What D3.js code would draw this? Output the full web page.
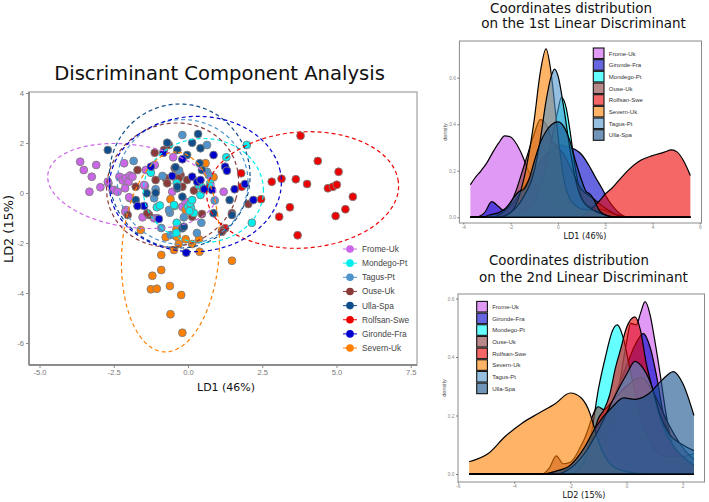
<!DOCTYPE html>
<html><head><meta charset="utf-8">
<script src="https://cdn.jsdelivr.net/npm/d3@7"></script>
<style>body{margin:0;background:#fff} svg{display:block}</style>
</head><body>
<svg id="c" width="709" height="502"></svg>
<script>
// ---------- DATA ----------
const groupNames  = ["Frome-Uk","Mondego-Pt","Tagus-Pt","Ouse-Uk","Ulla-Spa","Rolfsan-Swe","Gironde-Fra","Severn-Uk"];
const groupColors = ["#CC66E8","#00EEEE","#4F94CD","#8B3A3A","#104E8B","#EE0000","#0000CD","#FF7F00"];

const ptsFrome = [[-3.63,1.25],[-3.51,0.92],[-3.09,1.12],[-3.24,0.65],[-2.95,0.23],[-3.32,0.05],[-2.68,0.39],[-2.48,0.12],[-2.31,0.65],[-2.2,0.5],[-2.1,0.6],[-2.0,0.45],[-1.95,0.7],[-2.15,1.19],[-1.87,0.65],[-1.95,-0.21],[-2.12,0.19],[-2.09,-0.68],[-1.53,-0.97],[-1.14,-1.01],[-1.45,0.28],[-1.42,0.92],[-1.12,1.12],[-0.5,1.43],[-0.53,0.05],[-0.19,-0.55],[-0.08,-0.35],[1.2,0.05],[-2.7,0.45],[-2.54,0.12],[-2.37,0.05],[-1.98,-0.17],[-1.48,0.32],[-2.11,-0.75],[-1.03,-1.01],[-0.47,0.65]];
const ptsMondego = [[-1.25,0.81],[-0.38,0.39],[-1.05,-0.57],[-0.45,-0.52],[0.0,-0.55],[0.1,-0.6],[0.2,-0.8],[0.05,-0.72],[0.36,0.32],[0.47,0.23],[0.75,0.39],[1.29,1.43],[1.98,1.92],[2.15,-1.19],[-0.39,-1.59],[-0.47,-0.48],[0.08,-0.41],[0.14,-0.28],[0.42,-0.08],[0.75,0.28],[-0.38,-1.19],[-0.95,-0.5]];
const ptsTagus = [[-0.19,2.32],[0.64,1.92],[-1.83,1.28],[-0.86,0.68],[-1.14,-0.21],[-0.61,-0.79],[-0.14,-0.97],[0.64,0.85],[-0.59,-1.68],[-1.09,0.15],[-0.64,-0.68],[0.45,-1.19],[0.70,0.72],[-0.3,0.9],[0.9,-0.3],[-0.9,-1.4],[0.3,-1.6]];
const ptsOuse = [[-1.70,0.92],[-1.12,1.61],[-0.81,1.72],[-0.64,1.92],[-1.09,0.52],[-0.75,0.59],[-0.70,0.39],[-0.25,0.72],[-0.31,0.59],[-0.03,0.52],[-0.19,0.25],[-1.76,0.25],[-2.03,-0.88],[-1.31,-0.88],[0.14,-0.95],[0.47,-0.84],[1.18,-1.48],[2.03,-0.44],[-1.37,-0.81],[1.48,-0.81],[1.14,-1.55],[-0.45,1.0],[0.2,0.1]];
const ptsUlla = [[-2.70,1.72],[-0.70,2.01],[0.34,2.36],[0.14,2.01],[-0.36,1.72],[-0.03,1.52],[0.42,1.79],[0.47,0.92],[0.39,1.19],[-0.36,0.19],[-1.09,0.01],[-0.19,-0.15],[-1.76,-0.28],[-0.19,-1.41],[1.40,-0.28],[0.53,0.15],[-1.39,-0.01],[-0.42,1.03],[-0.36,0.25],[-0.14,-1.35],[0.86,-0.81],[1.48,-0.88]];
const ptsRolfsan = [[3.79,2.29],[4.37,1.28],[5.07,0.85],[2.82,0.45],[3.15,0.57],[3.63,0.55],[4.01,0.36],[4.71,0.19],[4.88,0.25],[5.01,0.33],[5.55,-0.15],[3.43,-0.57],[3.07,-0.95],[4.97,-0.92],[5.30,-0.65],[3.69,-1.69],[2.46,-0.25],[1.79,0.79],[1.81,0.25],[1.25,-1.41]];
const ptsGironde = [[-1.25,1.05],[-0.83,1.61],[-0.19,1.35],[0.86,1.52],[1.25,1.05],[1.31,0.89],[-0.53,0.68],[0.14,0.65],[0.31,0.45],[0.42,0.52],[0.81,0.12],[0.55,0.15],[1.57,0.15],[1.92,0.36],[2.20,-0.28],[-1.48,-0.52],[-0.98,-1.04],[-0.06,-2.39],[-1.70,-0.52]];
const ptsSevern = [[1.48,-2.71],[-0.90,-3.08],[-1.20,-3.31],[-1.25,-3.85],[-1.05,-3.83],[-0.61,-3.72],[-0.23,-4.08],[-0.59,-4.85],[-0.19,-5.59],[-0.90,-2.48],[-0.47,-2.28],[0.39,-2.35],[-1.59,-1.48],[-0.75,-1.77],[-0.59,-0.25],[-0.39,-1.45],[-0.38,-1.75],[-0.08,-1.85],[-0.31,-2.04],[0.14,-2.04],[0.59,1.19],[0.86,0.63],[-0.08,-0.68],[0.37,-1.85]];

// 95% ellipses: [centre x, centre y, semi-axis a, semi-axis b, angle deg]
const ellFrome   = [-1.89,0.28,2.87,1.64,-11];
const ellMondego = [0.52,0.10,2.02,2.08,0];
const ellTagus   = [-0.18,0.44,2.2,2.5,0];
const ellOuse    = [-0.52,0.32,2.2,2.5,-15];
const ellUlla    = [-0.28,0.68,2.37,2.88,0];
const ellRolfsan = [3.86,0.12,3.24,2.32,6];
const ellGironde = [0.25,0.36,2.9,2.7,10];
const ellSevern  = [-0.59,-2.36,4.0,1.64,87];

const xTicks = [-5,-2.5,0,2.5,5,7.5];
const yTicks = [-6,-4,-2,0,2,4];

// density plots (alphabetical order)
const densNames  = ["Frome-Uk","Gironde-Fra","Mondego-Pt","Ouse-Uk","Rolfsan-Swe","Severn-Uk","Tagus-Pt","Ulla-Spa"];
const densColors = ["#CC55EE","#0000CD","#00FFFF","#8B3A3A","#EE0000","#FF8000","#4F94CD","#104E8B"];

const ld1Frome = [[-3.7,0.14],[-3.5,0.17],[-3.25,0.2],[-3.0,0.235],[-2.75,0.28],[-2.5,0.32],[-2.25,0.35],[-2.0,0.345],[-1.75,0.315],[-1.5,0.265],[-1.25,0.2],[-1.0,0.15],[-0.75,0.11],[-0.5,0.08],[-0.25,0.06],[0,0.05],[0.5,0.035],[1.0,0.02],[1.5,0.006],[2.0,0]];
const ld1Gironde = [[-3.5,0],[-3.1,0.02],[-2.8,0.067],[-2.5,0.045],[-2.3,0.03],[-2.0,0.05],[-1.5,0.12],[-1.0,0.2],[-0.5,0.27],[0,0.31],[0.5,0.3],[0.75,0.29],[1.0,0.27],[1.3,0.225],[1.6,0.17],[1.86,0.125],[2.1,0.08],[2.3,0.05],[2.7,0.01],[3.0,0]];
const ld1Mondego = [[-2.0,0],[-1.5,0.02],[-1.0,0.07],[-0.75,0.13],[-0.5,0.22],[-0.25,0.34],[0,0.46],[0.15,0.516],[0.35,0.47],[0.5,0.38],[0.75,0.2],[1.0,0.09],[1.25,0.05],[1.5,0.04],[2.0,0.03],[2.5,0.01],[3.0,0]];
const ld1Ouse = [[-2.75,0],[-2.5,0.01],[-2.0,0.06],[-1.75,0.12],[-1.5,0.2],[-1.25,0.28],[-1.0,0.36],[-0.75,0.42],[-0.5,0.4],[-0.25,0.33],[0,0.3],[0.25,0.27],[0.5,0.22],[1.0,0.12],[1.5,0.08],[2.0,0.04],[2.5,0.01],[3.0,0]];
const ld1Rolfsan = [[0.8,0],[1.1,0.01],[1.4,0.035],[1.75,0.07],[2.0,0.1],[2.28,0.125],[2.5,0.15],[3.0,0.205],[3.5,0.245],[4.0,0.265],[4.5,0.28],[4.8,0.29],[5.05,0.28],[5.3,0.245],[5.6,0.18]];
const ld1Severn = [[-2.5,0],[-2.0,0.02],[-1.75,0.06],[-1.5,0.14],[-1.25,0.26],[-1.0,0.42],[-0.75,0.62],[-0.5,0.724],[-0.3,0.63],[-0.1,0.45],[0.1,0.27],[0.3,0.14],[0.5,0.08],[0.75,0.05],[1.0,0.035],[1.5,0.03],[2.0,0.01],[2.5,0]];
const ld1Tagus = [[-2.5,0],[-2.0,0.02],[-1.5,0.08],[-1.0,0.2],[-0.75,0.33],[-0.5,0.5],[-0.3,0.6],[-0.14,0.637],[0,0.61],[0.25,0.47],[0.5,0.3],[0.75,0.16],[1.0,0.08],[1.5,0.03],[2.0,0.01],[2.5,0]];
const ld1Ulla = [[-3.2,0],[-2.9,0.01],[-2.5,0.02],[-2.2,0.04],[-1.9,0.08],[-1.66,0.11],[-1.45,0.12],[-1.2,0.17],[-1.0,0.24],[-0.75,0.32],[-0.5,0.37],[-0.25,0.4],[0,0.41],[0.25,0.39],[0.5,0.33],[0.75,0.24],[1.0,0.16],[1.2,0.11],[1.35,0.1],[1.5,0.08],[1.75,0.03],[2.0,0.01],[2.3,0]];

const ld2Frome = [[-1.75,0],[-1.25,0.02],[-1.0,0.06],[-0.75,0.12],[-0.5,0.2],[-0.25,0.31],[0,0.45],[0.15,0.515],[0.35,0.51],[0.5,0.55],[0.66,0.589],[0.85,0.54],[1.0,0.46],[1.2,0.34],[1.4,0.21],[1.6,0.11],[1.9,0.04],[2.2,0.01],[2.4,0]];
const ld2Gironde = [[-3.0,0],[-2.5,0.01],[-2.0,0.02],[-1.5,0.05],[-1.0,0.13],[-0.5,0.25],[0,0.37],[0.3,0.44],[0.6,0.48],[0.85,0.43],[1.1,0.32],[1.3,0.21],[1.6,0.11],[2.0,0.05],[2.4,0.03]];
const ld2Mondego = [[-2.0,0],[-1.75,0.01],[-1.5,0.05],[-1.25,0.14],[-1.0,0.29],[-0.75,0.4],[-0.5,0.49],[-0.33,0.51],[-0.1,0.46],[0.1,0.37],[0.3,0.28],[0.5,0.2],[0.75,0.13],[1.0,0.08],[1.5,0.06],[2.0,0.06],[2.4,0.07]];
const ld2Ouse = [[-3.0,0],[-2.75,0.02],[-2.5,0.062],[-2.25,0.035],[-2.0,0.04],[-1.5,0.12],[-1.0,0.23],[-0.8,0.22],[-0.5,0.25],[0,0.3],[0.5,0.33],[1.0,0.27],[1.5,0.17],[2.0,0.09],[2.4,0.05]];
const ld2Rolfsan = [[-2.0,0],[-1.5,0.04],[-1.2,0.13],[-1.0,0.19],[-0.8,0.22],[-0.6,0.27],[-0.4,0.36],[-0.2,0.43],[0,0.5],[0.3,0.537],[0.5,0.49],[0.7,0.38],[0.9,0.3],[1.1,0.22],[1.4,0.14],[1.8,0.08],[2.4,0.03]];
const ld2Severn = [[-5.6,0.042],[-4.92,0.07],[-4.32,0.128],[-3.73,0.173],[-3.14,0.207],[-2.54,0.24],[-2.0,0.277],[-1.6,0.259],[-1.3,0.207],[-1.12,0.15],[-0.88,0.082],[-0.53,0.03],[0,0.008],[0.5,0.002],[1.0,0]];
const ld2Tagus = [[-2.5,0],[-2.0,0.02],[-1.5,0.07],[-1.0,0.15],[-0.5,0.25],[0,0.34],[0.3,0.385],[0.6,0.36],[0.9,0.3],[1.2,0.2],[1.5,0.14],[2.0,0.1],[2.4,0.08]];
const ld2Ulla = [[-3.0,0],[-2.5,0.01],[-2.0,0.03],[-1.5,0.09],[-1.1,0.16],[-0.5,0.23],[-0.1,0.26],[0.3,0.255],[0.8,0.275],[1.25,0.32],[1.67,0.35],[2.0,0.31],[2.4,0.2]];

const ld1Ticks = [-4,-2,0,2,4,6];
const ld2Ticks = [-6,-4,-2,0,2];
const densTicks = [0,0.2,0.4,0.6];

// ---------- DRAW ----------
const svg = d3.select("#c");
const SANS = "'Liberation Sans', Arial, sans-serif";
const TITLE = "'DejaVu Sans', Verdana, sans-serif";
function fit(t, w){ const l=t.node().getComputedTextLength(); const fs=parseFloat(t.attr("font-size")); t.attr("font-size", fs*w/l); return t; }

// ---- scatter panel ----
const P = {l:29, r:417, t:92, b:365};
const x = d3.scaleLinear().domain([-5,7.5]).range([39.5,410.75]);
const y = d3.scaleLinear().domain([-6,4]).range([343,93]);

svg.append("rect").attr("x",P.l).attr("y",P.t).attr("width",P.r-P.l).attr("height",P.b-P.t)
  .attr("fill","#fff").attr("stroke","#a8a8a8").attr("stroke-width",1.3);
svg.append("line").attr("x1",P.l).attr("x2",P.r).attr("y1",P.b).attr("y2",P.b).attr("stroke","#8c8c8c").attr("stroke-width",1.8);
svg.append("line").attr("x1",P.l).attr("x2",P.l).attr("y1",P.t).attr("y2",P.b).attr("stroke","#8c8c8c").attr("stroke-width",1.8);

const gx = svg.append("g").attr("transform",`translate(0,${P.b})`)
  .call(d3.axisBottom(x).tickValues(xTicks).tickFormat(d=>d.toFixed(1)).tickSize(3).tickPadding(2));
const gy = svg.append("g").attr("transform",`translate(${P.l},0)`)
  .call(d3.axisLeft(y).tickValues(yTicks).tickFormat(d=>String(d)).tickSize(3).tickPadding(2));
[gx,gy].forEach(g=>{ g.select(".domain").remove();
  g.selectAll("line").attr("stroke","#888");
  g.selectAll("text").attr("fill","#777").attr("font-size",7.6).attr("font-family",SANS); });

const pointSets = {"Frome-Uk":ptsFrome,"Mondego-Pt":ptsMondego,"Tagus-Pt":ptsTagus,"Ouse-Uk":ptsOuse,"Ulla-Spa":ptsUlla,"Rolfsan-Swe":ptsRolfsan,"Gironde-Fra":ptsGironde,"Severn-Uk":ptsSevern};
const ellSets = {"Frome-Uk":ellFrome,"Mondego-Pt":ellMondego,"Tagus-Pt":ellTagus,"Ouse-Uk":ellOuse,"Ulla-Spa":ellUlla,"Rolfsan-Swe":ellRolfsan,"Gironde-Fra":ellGironde,"Severn-Uk":ellSevern};
const col = n => groupColors[groupNames.indexOf(n)];

const drawOrder = ["Frome-Uk","Severn-Uk","Rolfsan-Swe","Ouse-Uk","Tagus-Pt","Mondego-Pt","Ulla-Spa","Gironde-Fra"];
const gp = svg.append("g");
drawOrder.forEach(n=>{
  gp.selectAll(null).data(pointSets[n]).enter().append("circle")
    .attr("cx",d=>x(d[0])).attr("cy",d=>y(d[1])).attr("r",3.9)
    .attr("fill",col(n)).attr("stroke","#7f7f7f").attr("stroke-width",0.9);
});
function ellipsePts(e){ const [cx,cy,a,b,ang]=e; const t=ang*Math.PI/180;
  return d3.range(0,361,3).map(k=>{ const s=k*Math.PI/180;
    return [cx+a*Math.cos(t)*Math.cos(s)-b*Math.sin(t)*Math.sin(s), cy+a*Math.sin(t)*Math.cos(s)+b*Math.cos(t)*Math.sin(s)]; }); }
const eline = d3.line().x(d=>x(d[0])).y(d=>y(d[1])).curve(d3.curveLinear);
groupNames.forEach(n=>{
  svg.append("path").attr("d",eline(ellipsePts(ellSets[n]))).attr("fill","none")
    .attr("stroke",col(n)).attr("stroke-width",1.2).attr("stroke-dasharray","4,3");
});

// legend
groupNames.forEach((n,i)=>{
  const yy = 249 + i*14.15;
  svg.append("line").attr("x1",343).attr("x2",357).attr("y1",yy).attr("y2",yy).attr("stroke",col(n)).attr("stroke-width",1);
  svg.append("circle").attr("cx",350).attr("cy",yy).attr("r",3.8).attr("fill",col(n));
  svg.append("text").attr("x",362).attr("y",yy+3).text(n).attr("font-family",SANS).attr("font-size",8.3).attr("fill","#444");
});

// titles
fit(svg.append("text").attr("x",219.5).attr("y",80).attr("text-anchor","middle").attr("font-family",TITLE)
  .attr("font-size",20).attr("fill","#111").text("Discriminant Component Analysis"),331);
fit(svg.append("text").attr("x",226).attr("y",391).attr("text-anchor","middle").attr("font-family",TITLE)
  .attr("font-size",12).attr("fill","#111").text("LD1 (46%)"),58);
fit(svg.append("text").attr("transform","translate(12.5,229) rotate(-90)").attr("text-anchor","middle").attr("font-family",TITLE)
  .attr("font-size",13).attr("fill","#111").text("LD2 (15%)"),68);

// ---- density panels ----
function densityPanel(o){
  const xs = d3.scaleLinear().domain(o.xDom).range(o.xRange);
  const ys = d3.scaleLinear().domain([0,0.6]).range(o.yRange);
  svg.append("rect").attr("x",o.l).attr("y",o.t).attr("width",o.r-o.l).attr("height",o.b-o.t)
    .attr("fill","#fff").attr("stroke","#8a8a8a").attr("stroke-width",1);
  const area = d3.area().x(d=>xs(d[0])).y0(ys(0)).y1(d=>ys(d[1])).curve(d3.curveMonotoneX);
  const line = d3.line().x(d=>xs(d[0])).y(d=>ys(d[1])).curve(d3.curveMonotoneX);
  o.series.forEach((s,i)=>{
    const pts = s.slice();
    if(pts[0][0] > o.xMin) pts.unshift([o.xMin,0]);
    if(pts[pts.length-1][0] < o.xMax) pts.push([o.xMax,0]);
    svg.append("path").attr("d",area(pts)).attr("fill",densColors[i]).attr("fill-opacity",0.6);
    svg.append("path").attr("d",line(pts)).attr("fill","none").attr("stroke","#000").attr("stroke-width",1.2);
    svg.append("line").attr("x1",xs(o.xMin)).attr("x2",xs(o.xMax)).attr("y1",ys(0)).attr("y2",ys(0)).attr("stroke","#000").attr("stroke-width",1.2);
  });
  const ax = svg.append("g").attr("transform",`translate(0,${o.b})`)
    .call(d3.axisBottom(xs).tickValues(o.xTicks).tickFormat(d=>String(d)).tickSize(1.5).tickPadding(1));
  const ay = svg.append("g").attr("transform",`translate(${o.l},0)`)
    .call(d3.axisLeft(ys).tickValues(densTicks).tickFormat(d=>d.toFixed(1)).tickSize(2).tickPadding(1.5));
  [ax,ay].forEach(g=>{ g.select(".domain").remove(); g.selectAll("line").attr("stroke","#777");
    g.selectAll("text").attr("fill","#888").attr("font-size",4.8).attr("font-family",SANS); });
  svg.append("text").attr("transform",`translate(${o.l-12},${(o.t+o.b)/2}) rotate(-90)`).attr("text-anchor","middle")
    .attr("font-family",SANS).attr("font-size",5.5).attr("fill","#555").text("density");
  densNames.forEach((n,i)=>{
    const yy = o.legY + i*11.67;
    svg.append("rect").attr("x",o.legX).attr("y",yy-5.3).attr("width",10.7).attr("height",10.6)
      .attr("fill",densColors[i]).attr("fill-opacity",0.6).attr("stroke","#111").attr("stroke-width",1.1);
    svg.append("text").attr("x",o.legX+15.5).attr("y",yy+2.2).text(n).attr("font-family",SANS).attr("font-size",6).attr("fill","#333");
  });
  o.title.forEach(tl=>{
    fit(svg.append("text").attr("x",tl[1]).attr("y",tl[2]).attr("text-anchor","middle").attr("font-family",TITLE)
      .attr("font-size",14).attr("fill","#111").text(tl[0]), tl[3]);
  });
  fit(svg.append("text").attr("x",o.xlab[1]).attr("y",o.xlab[2]).attr("text-anchor","middle").attr("font-family",TITLE)
    .attr("font-size",10).attr("fill","#111").text(o.xlab[0]), o.xlab[3]);
}

densityPanel({
  l:459.4, r:701.5, t:41, b:223,
  xDom:[-4,6], xRange:[463.3,699.8], yRange:[217.3,77.7],
  xMin:-3.7, xMax:5.6, xTicks:ld1Ticks,
  series:[ld1Frome,ld1Gironde,ld1Mondego,ld1Ouse,ld1Rolfsan,ld1Severn,ld1Tagus,ld1Ulla],
  legX:593.3, legY:53.3,
  title:[["Coordinates distribution",571,13,162],["on the 1st Linear Discriminant",583.5,28.3,205]],
  xlab:["LD1 (46%)",585,238.8,43]
});
densityPanel({
  l:458, r:704.5, t:294, b:482,
  xDom:[-6,2], xRange:[457.9,682.7], yRange:[474,298.5],
  xMin:-5.6, xMax:2.4, xTicks:ld2Ticks,
  series:[ld2Frome,ld2Gironde,ld2Mondego,ld2Ouse,ld2Rolfsan,ld2Severn,ld2Tagus,ld2Ulla],
  legX:476.7, legY:306.7,
  title:[["Coordinates distribution",569,265,160],["on the 2nd Linear Discriminant",583.5,281.5,209]],
  xlab:["LD2 (15%)",584,497.5,43]
});
</script>
</body></html>
